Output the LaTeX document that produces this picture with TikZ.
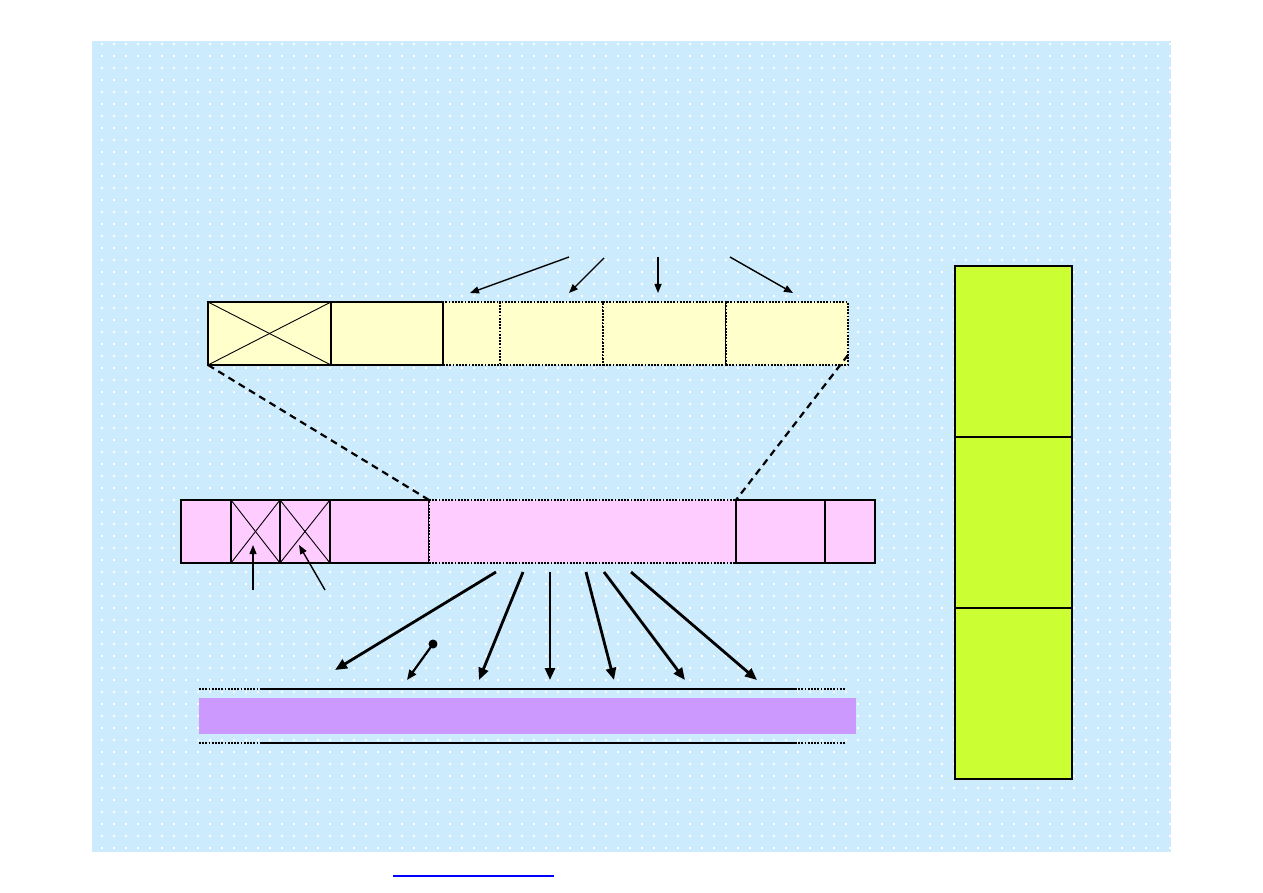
\documentclass[tikz,border=0pt]{standalone}
\usetikzlibrary{arrows.meta}
\definecolor{bgblue}{RGB}{204,235,252}
\definecolor{pyellow}{RGB}{255,255,204}
\definecolor{ppink}{RGB}{255,204,255}
\definecolor{ppurple}{RGB}{204,153,255}
\definecolor{plime}{RGB}{204,255,51}
\definecolor{linkblue}{RGB}{0,0,255}
\begin{document}
\begin{tikzpicture}[x=1pt,y=-1pt,
  cell/.style={draw, line width=2.3, inner sep=0, outer sep=0, anchor=north west},
  dotcell/.style={draw, line width=2.1, dash pattern=on 1.8 off 1.4, inner sep=0, outer sep=0, anchor=north west},
  dotline/.style={line width=2.3, dash pattern=on 1.8 off 1.4},
  thinarrow/.style={line width=1.4, -{Triangle[length=9,width=7]}},
  thickarrow/.style={line width=2.8, -{Triangle[length=12,width=10]}},
  crossline/.style={line width=0.9},
  zoomline/.style={line width=2.2, dash pattern=on 7 off 5}]
\useasboundingbox (0,0) rectangle (1263,893);
\fill[bgblue] (92,41) rectangle (1171,852);
\foreach \y in {44,56,...,848}
  \draw[white, line width=1.6, dash pattern=on 1.6 off 10.4] (101,\y) -- (1171,\y);

% top (yellow) bar
\node[cell, fill=pyellow, minimum width=123, minimum height=63] (y1) at (208,302) {};
\node[cell, fill=pyellow, minimum width=112, minimum height=63] (y2) at (331,302) {};
\node[dotcell, fill=pyellow, minimum width=57, minimum height=63] (y3) at (443,302) {};
\node[dotcell, fill=pyellow, minimum width=103, minimum height=63] (y4) at (500,302) {};
\node[dotcell, fill=pyellow, minimum width=123, minimum height=63] (y5) at (603,302) {};
\node[dotcell, fill=pyellow, minimum width=122, minimum height=63] (y6) at (726,302) {};
\draw[cell] (y1.north west) rectangle (y2.south east);
\draw[crossline] (y1.north west) -- (y1.south east);
\draw[crossline] (y1.south west) -- (y1.north east);

% arrows above yellow bar
\coordinate (t1s) at (569,257); \coordinate (t1e) at (470,293);
\coordinate (t2s) at (604,258); \coordinate (t2e) at (569,293);
\coordinate (t3s) at (658,257); \coordinate (t3e) at (658,293);
\coordinate (t4s) at (730,257); \coordinate (t4e) at (793,293);
\draw[thinarrow] (t1s) -- (t1e);
\draw[thinarrow] (t2s) -- (t2e);
\draw[thinarrow] (t3s) -- (t3e);
\draw[thinarrow] (t4s) -- (t4e);

% pink bar
\node[cell, fill=ppink, minimum width=50, minimum height=63] (p1) at (181,500) {};
\node[cell, fill=ppink, minimum width=49, minimum height=63] (p2) at (231,500) {};
\node[cell, fill=ppink, minimum width=50, minimum height=63] (p3) at (280,500) {};
\node[cell, fill=ppink, minimum width=99, minimum height=63] (p4) at (330,500) {};
\node[dotcell, fill=ppink, minimum width=307, minimum height=63] (pm) at (429,500) {};
\node[cell, fill=ppink, minimum width=89, minimum height=63] (p5) at (736,500) {};
\node[cell, fill=ppink, minimum width=50, minimum height=63] (p6) at (825,500) {};
\draw[crossline] (p2.north west) -- (p2.south east);
\draw[crossline] (p2.south west) -- (p2.north east);
\draw[crossline] (p3.north west) -- (p3.south east);
\draw[crossline] (p3.south west) -- (p3.north east);

% zoom (dashed) lines
\coordinate (zr) at (848,355);
\draw[zoomline] (y1.south west) -- (pm.north west);
\draw[zoomline] (zr) -- (p5.north west);

% small arrows into crossed cells
\coordinate (s1s) at (253,590); \coordinate (s1e) at (253,545);
\coordinate (s2s) at (325,590); \coordinate (s2e) at (299,545);
\draw[thinarrow] (s1s) -- (s1e);
\draw[thinarrow] (s2s) -- (s2e);

% thick arrows from pink bar
\coordinate (b1s) at (496,572); \coordinate (b1e) at (335,670);
\coordinate (b2s) at (523,572); \coordinate (b2e) at (479,680);
\coordinate (b3s) at (550,572); \coordinate (b3e) at (550,680);
\coordinate (b4s) at (586,572); \coordinate (b4e) at (614,680);
\coordinate (b5s) at (604,572); \coordinate (b5e) at (685,680);
\coordinate (b6s) at (631,572); \coordinate (b6e) at (757,680);
\draw[thickarrow] (b1s) -- (b1e);
\draw[thickarrow] (b2s) -- (b2e);
\draw[thickarrow] (b3s) -- (b3e);
\draw[thickarrow] (b4s) -- (b4e);
\draw[thickarrow] (b5s) -- (b5e);
\draw[thickarrow] (b6s) -- (b6e);
\coordinate (ds) at (433,644); \coordinate (de) at (407,680);
\fill (ds) circle (4.5);
\draw[line width=2.2, -{Triangle[length=10,width=8]}] (ds) -- (de);

% bottom band
\node[fill=ppurple, inner sep=0, outer sep=0, anchor=north west, minimum width=657, minimum height=36] (band) at (199,698) {};
\coordinate (l1a) at (199,689); \coordinate (l1b) at (262,689);
\coordinate (l1c) at (795,689); \coordinate (l1d) at (845,689);
\coordinate (l2a) at (199,743); \coordinate (l2b) at (262,743);
\coordinate (l2c) at (795,743); \coordinate (l2d) at (845,743);
\draw[dotline] (l1a) -- (l1b);
\draw[line width=2.6] (l1b) -- (l1c);
\draw[dotline] (l1c) -- (l1d);
\draw[dotline] (l2a) -- (l2b);
\draw[line width=2.6] (l2b) -- (l2c);
\draw[dotline] (l2c) -- (l2d);

% green column
\node[cell, fill=plime, minimum width=117, minimum height=171] (g1) at (955,266) {};
\node[cell, fill=plime, minimum width=117, minimum height=171] (g2) at (955,437) {};
\node[cell, fill=plime, minimum width=117, minimum height=171] (g3) at (955,608) {};

% link underline
\coordinate (u1) at (393,876); \coordinate (u2) at (554,876);
\draw[linkblue, line width=2.2] (u1) -- (u2);
\end{tikzpicture}
\end{document}
